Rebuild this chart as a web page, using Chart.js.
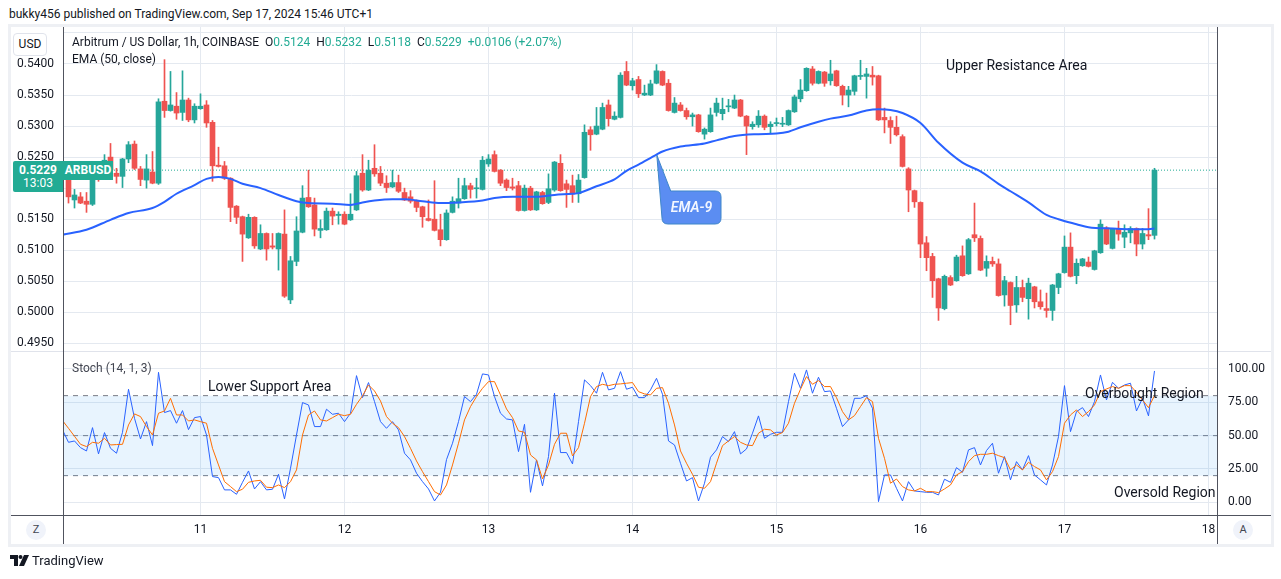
<!DOCTYPE html>
<html lang="en">
<head>
<meta charset="utf-8">
<title>ARBUSD 1h - Coinbase</title>
<script src="https://cdn.jsdelivr.net/npm/chart.js@4.4.1/dist/chart.umd.min.js"></script>
<style>
    html, body { margin: 0; padding: 0; background: #ffffff; }
    body { font-family: Roboto, "Liberation Sans", Arial, sans-serif; color: #131722; }
    #page { position: relative; width: 1281px; height: 579px; overflow: hidden; }
    .abs { position: absolute; white-space: nowrap; }
    canvas { position: absolute; }
    #frame { left: 8px; top: 24px; width: 1266px; height: 523px; box-sizing: border-box; border: 3px solid #eef0f4; }
    #priceCanvas { left: 11px; top: 27px; }
    #stochCanvas { left: 11px; top: 352px; }
    .rule { position: absolute; }
    #published { left: 9px; top: 7px; font-size: 12px; color: #131722; }
    #usdBtn { left: 13px; top: 33px; width: 32px; height: 21px; line-height: 21px; text-align: center; font-size: 12px;
              border: 1px solid #e0e3eb; border-radius: 4px; background: #fff; }
    #symbolLegend { left: 72px; top: 35px; font-size: 12px; }
    #symbolLegend .val { color: #22ab94; }
    #symbolLegend .key { margin-left: 6px; }
    #emaLegend { left: 72px; top: 52px; font-size: 12px; }
    #stochLegend { left: 72px; top: 361px; font-size: 12px; color: #434651; }
    .note { font-size: 14px; color: #131722; }
    #upperNote { left: 946px; top: 57px; }
    #lowerNote { left: 208px; top: 378px; }
    #obNote { left: 1085px; top: 385px; }
    #osNote { left: 1114px; top: 484px; }
    #calloutText { left: 662px; top: 199px; width: 59px; text-align: center; font-size: 14px; font-style: italic;
                   font-weight: 600; color: #f4f7ff; }
    #priceBox { left: 13px; width: 50px; height: 31px; background: #22ab94; color: #fff; border-radius: 2px 0 0 2px;
                font-size: 12px; text-align: center; line-height: 13px; padding-top: 3px; box-sizing: border-box; }
    #priceBox b { display: block; font-weight: 700; }
    #symbolTag { left: 63px; width: 50px; height: 19px; line-height: 19px; background: #22ab94; color: #fff;
                 font-size: 12px; font-weight: 700; text-align: center; }
    .round { width: 20px; height: 20px; line-height: 20px; border-radius: 10px; background: #f0f3fa; text-align: center;
             font-size: 11px; color: #434651; }
    #btnZ { left: 26px; top: 520px; }
    #btnA { left: 1233px; top: 520px; }
    #brand { left: 10px; top: 553px; font-size: 13px; color: #131722; }
    #brand svg { vertical-align: -1px; margin-right: 3px; }
</style>
</head>
<body>
<div id="page">
    <div class="abs" id="published">bukky456 published on TradingView.com, Sep 17, 2024 15:46 UTC+1</div>
    <div class="abs" id="frame"></div>

    <canvas id="priceCanvas" width="1260" height="324"></canvas>
    <canvas id="stochCanvas" width="1260" height="192"></canvas>

    <div class="rule" style="left:11px;top:351px;width:1260px;height:1px;background:#e0e3eb"></div>
    <div class="rule" style="left:11px;top:515px;width:1260px;height:1px;background:#50535e"></div>
    <div class="rule" style="left:63px;top:27px;width:1px;height:517px;background:#50535e"></div>
    <div class="rule" style="left:1217px;top:27px;width:1px;height:517px;background:#50535e"></div>

    <div class="abs" id="usdBtn">USD</div>
    <div class="abs" id="symbolLegend">Arbitrum / US Dollar, 1h, COINBASE<span class="key">O<span class="val" id="legO"></span></span><span class="key">H<span class="val" id="legH"></span></span><span class="key">L<span class="val" id="legL"></span></span><span class="key">C<span class="val" id="legC"></span></span><span class="key val" id="legChg"></span></div>
    <div class="abs" id="emaLegend">EMA (50, close)</div>
    <div class="abs note" id="upperNote">Upper Resistance Area</div>

    <svg class="abs" style="left:0;top:0" width="1281" height="579">
        <path d="M656.8 155 L670.7 191 L715 191 Q721 191 721 197 L721 218 Q721 224 715 224 L668 224 Q662 224 662 218 Z"
              fill="#5b8df2" stroke="#3f86c9" stroke-width="1"/>
    </svg>
    <div class="abs" id="calloutText">EMA-9</div>

    <div class="abs" id="priceBox"><b id="lastPrice"></b>13:03</div>
    <div class="abs" id="symbolTag">ARBUSD</div>

    <div class="abs" id="stochLegend">Stoch (14, 1, 3)</div>
    <div class="abs note" id="lowerNote">Lower Support Area</div>
    <div class="abs note" id="obNote">Overbought Region</div>
    <div class="abs note" id="osNote">Oversold Region</div>

    <div class="abs round" id="btnZ">Z</div>
    <div class="abs round" id="btnA">A</div>
    <div class="abs" id="brand"><svg width="19" height="11" viewBox="0 0 19 11"><path d="M0 0h8v11h-4v-7h-4z" fill="#131722"/><circle cx="10.5" cy="2" r="2" fill="#131722"/><path d="M14 0h5l-5 11h-5z" fill="#131722"/></svg>TradingView</div>
</div>

<script>
// ARBUSD 1h candles, Coinbase. Hours are counted from Sep 10 00:00 (UTC+1),
// first candle is Sep 10 02:00, last one Sep 17 15:00.
const firstCandleHour = 2;

const openPrices = [
    0.5214, 0.5181, 0.5186, 0.5179, 0.5174, 0.5225, 0.5220, 0.5250, 0.5224, 0.5219,
    0.5247, 0.5271, 0.5231, 0.5213, 0.5226, 0.5208, 0.5340, 0.5325, 0.5332, 0.5322,
    0.5342, 0.5310, 0.5328, 0.5334, 0.5306, 0.5237, 0.5236, 0.5216, 0.5171, 0.5154,
    0.5120, 0.5153, 0.5102, 0.5127, 0.5107, 0.5102, 0.5126, 0.5020, 0.5082, 0.5129,
    0.5185, 0.5173, 0.5132, 0.5133, 0.5163, 0.5156, 0.5158, 0.5149, 0.5165, 0.5224,
    0.5197, 0.5232, 0.5224, 0.5208, 0.5202, 0.5209, 0.5193, 0.5186, 0.5179, 0.5170,
    0.5151, 0.5150, 0.5133, 0.5117, 0.5161, 0.5176, 0.5183, 0.5204, 0.5199, 0.5198,
    0.5239, 0.5254, 0.5229, 0.5213, 0.5202, 0.5204, 0.5164, 0.5200, 0.5165, 0.5193,
    0.5177, 0.5197, 0.5240, 0.5207, 0.5204, 0.5191, 0.5217, 0.5294, 0.5287, 0.5295,
    0.5334, 0.5311, 0.5314, 0.5388, 0.5365, 0.5375, 0.5350, 0.5350, 0.5369, 0.5388,
    0.5369, 0.5322, 0.5334, 0.5325, 0.5315, 0.5318, 0.5287, 0.5291, 0.5322, 0.5320,
    0.5331, 0.5329, 0.5342, 0.5316, 0.5299, 0.5302, 0.5316, 0.5299, 0.5304, 0.5303,
    0.5302, 0.5323, 0.5344, 0.5357, 0.5392, 0.5369, 0.5387, 0.5373, 0.5389, 0.5364,
    0.5350, 0.5356, 0.5380, 0.5380, 0.5382, 0.5381, 0.5314, 0.5309, 0.5298, 0.5283,
    0.5231, 0.5196, 0.5177, 0.5112, 0.5090, 0.5054, 0.5006, 0.5056, 0.5051, 0.5091,
    0.5062, 0.5125, 0.5119, 0.5071, 0.5082, 0.5078, 0.5028, 0.5048, 0.5012, 0.5040,
    0.5022, 0.5041, 0.5017, 0.5006, 0.5003, 0.5040, 0.5064, 0.5105, 0.5059, 0.5075,
    0.5081, 0.5069, 0.5096, 0.5136, 0.5103, 0.5135, 0.5121, 0.5128, 0.5135, 0.5110,
    0.5125, 0.5124
];
const highPrices = [
    0.5218, 0.5198, 0.5193, 0.5193, 0.5225, 0.5232, 0.5254, 0.5272, 0.5232, 0.5248,
    0.5275, 0.5276, 0.5235, 0.5254, 0.5259, 0.5344, 0.5407, 0.5388, 0.5354, 0.5389,
    0.5345, 0.5336, 0.5352, 0.5341, 0.5309, 0.5266, 0.5243, 0.5217, 0.5172, 0.5155,
    0.5158, 0.5154, 0.5141, 0.5128, 0.5127, 0.5128, 0.5165, 0.5090, 0.5154, 0.5204,
    0.5229, 0.5184, 0.5149, 0.5168, 0.5168, 0.5162, 0.5162, 0.5191, 0.5227, 0.5254,
    0.5245, 0.5270, 0.5235, 0.5220, 0.5229, 0.5221, 0.5200, 0.5196, 0.5181, 0.5171,
    0.5181, 0.5212, 0.5158, 0.5165, 0.5186, 0.5216, 0.5216, 0.5208, 0.5216, 0.5251,
    0.5254, 0.5260, 0.5230, 0.5215, 0.5216, 0.5211, 0.5205, 0.5203, 0.5195, 0.5195,
    0.5223, 0.5243, 0.5254, 0.5213, 0.5221, 0.5222, 0.5302, 0.5299, 0.5330, 0.5337,
    0.5342, 0.5323, 0.5386, 0.5404, 0.5377, 0.5380, 0.5366, 0.5374, 0.5399, 0.5389,
    0.5375, 0.5346, 0.5338, 0.5329, 0.5321, 0.5319, 0.5297, 0.5329, 0.5345, 0.5345,
    0.5343, 0.5350, 0.5343, 0.5317, 0.5307, 0.5325, 0.5318, 0.5307, 0.5313, 0.5314,
    0.5326, 0.5350, 0.5375, 0.5394, 0.5396, 0.5389, 0.5388, 0.5406, 0.5390, 0.5366,
    0.5364, 0.5382, 0.5406, 0.5393, 0.5396, 0.5382, 0.5329, 0.5315, 0.5316, 0.5286,
    0.5233, 0.5197, 0.5178, 0.5122, 0.5095, 0.5055, 0.5060, 0.5059, 0.5092, 0.5107,
    0.5119, 0.5176, 0.5123, 0.5091, 0.5089, 0.5086, 0.5058, 0.5049, 0.5058, 0.5052,
    0.5055, 0.5042, 0.5036, 0.5031, 0.5045, 0.5063, 0.5123, 0.5128, 0.5086, 0.5087,
    0.5089, 0.5100, 0.5149, 0.5138, 0.5135, 0.5147, 0.5141, 0.5138, 0.5136, 0.5135,
    0.5167, 0.5232
];
const lowPrices = [
    0.5176, 0.5168, 0.5175, 0.5161, 0.5172, 0.5211, 0.5216, 0.5227, 0.5208, 0.5201,
    0.5241, 0.5230, 0.5204, 0.5200, 0.5207, 0.5206, 0.5314, 0.5324, 0.5311, 0.5309,
    0.5307, 0.5305, 0.5327, 0.5298, 0.5211, 0.5234, 0.5214, 0.5146, 0.5143, 0.5082,
    0.5119, 0.5103, 0.5101, 0.5084, 0.5102, 0.5068, 0.5024, 0.5014, 0.5075, 0.5128,
    0.5169, 0.5123, 0.5120, 0.5132, 0.5141, 0.5142, 0.5141, 0.5148, 0.5164, 0.5195,
    0.5196, 0.5219, 0.5204, 0.5193, 0.5201, 0.5193, 0.5180, 0.5176, 0.5162, 0.5137,
    0.5147, 0.5131, 0.5107, 0.5116, 0.5160, 0.5168, 0.5182, 0.5184, 0.5184, 0.5197,
    0.5235, 0.5226, 0.5204, 0.5196, 0.5197, 0.5163, 0.5163, 0.5164, 0.5164, 0.5174,
    0.5175, 0.5195, 0.5195, 0.5169, 0.5177, 0.5177, 0.5216, 0.5261, 0.5286, 0.5294,
    0.5300, 0.5310, 0.5313, 0.5365, 0.5358, 0.5346, 0.5349, 0.5349, 0.5368, 0.5365,
    0.5324, 0.5321, 0.5324, 0.5311, 0.5300, 0.5290, 0.5279, 0.5290, 0.5316, 0.5310,
    0.5323, 0.5328, 0.5315, 0.5254, 0.5295, 0.5298, 0.5294, 0.5288, 0.5300, 0.5299,
    0.5301, 0.5322, 0.5339, 0.5356, 0.5366, 0.5368, 0.5364, 0.5366, 0.5364, 0.5334,
    0.5331, 0.5350, 0.5375, 0.5345, 0.5366, 0.5309, 0.5289, 0.5272, 0.5284, 0.5234,
    0.5162, 0.5169, 0.5088, 0.5067, 0.5024, 0.4987, 0.5004, 0.5043, 0.5050, 0.5058,
    0.5061, 0.5114, 0.5067, 0.5058, 0.5074, 0.5026, 0.5010, 0.4980, 0.5000, 0.5017,
    0.4989, 0.5007, 0.5005, 0.4992, 0.4987, 0.5030, 0.5063, 0.5057, 0.5046, 0.5074,
    0.5073, 0.5068, 0.5095, 0.5109, 0.5102, 0.5116, 0.5104, 0.5112, 0.5091, 0.5102,
    0.5117, 0.5118
];
const closePrices = [
    0.5186, 0.5189, 0.5176, 0.5174, 0.5222, 0.5218, 0.5245, 0.5229, 0.5219, 0.5247,
    0.5270, 0.5232, 0.5214, 0.5231, 0.5208, 0.5339, 0.5325, 0.5334, 0.5321, 0.5342,
    0.5310, 0.5332, 0.5332, 0.5305, 0.5236, 0.5235, 0.5216, 0.5169, 0.5153, 0.5126,
    0.5153, 0.5107, 0.5127, 0.5102, 0.5105, 0.5127, 0.5026, 0.5083, 0.5131, 0.5184,
    0.5170, 0.5134, 0.5135, 0.5163, 0.5155, 0.5158, 0.5142, 0.5158, 0.5220, 0.5197,
    0.5229, 0.5223, 0.5208, 0.5201, 0.5209, 0.5195, 0.5181, 0.5179, 0.5169, 0.5154,
    0.5148, 0.5132, 0.5117, 0.5160, 0.5179, 0.5183, 0.5204, 0.5198, 0.5200, 0.5245,
    0.5247, 0.5227, 0.5208, 0.5201, 0.5200, 0.5164, 0.5200, 0.5165, 0.5194, 0.5175,
    0.5199, 0.5242, 0.5196, 0.5198, 0.5191, 0.5213, 0.5290, 0.5286, 0.5300, 0.5330,
    0.5312, 0.5316, 0.5382, 0.5366, 0.5373, 0.5352, 0.5353, 0.5368, 0.5389, 0.5366,
    0.5325, 0.5337, 0.5325, 0.5315, 0.5318, 0.5291, 0.5295, 0.5318, 0.5337, 0.5327,
    0.5332, 0.5342, 0.5316, 0.5300, 0.5303, 0.5316, 0.5298, 0.5303, 0.5305, 0.5304,
    0.5325, 0.5347, 0.5358, 0.5393, 0.5369, 0.5388, 0.5369, 0.5384, 0.5365, 0.5350,
    0.5358, 0.5381, 0.5381, 0.5384, 0.5379, 0.5310, 0.5310, 0.5298, 0.5286, 0.5235,
    0.5197, 0.5178, 0.5110, 0.5088, 0.5051, 0.5007, 0.5058, 0.5044, 0.5089, 0.5059,
    0.5117, 0.5120, 0.5068, 0.5082, 0.5078, 0.5027, 0.5051, 0.5011, 0.5040, 0.5024,
    0.5047, 0.5017, 0.5009, 0.5003, 0.5044, 0.5062, 0.5105, 0.5058, 0.5079, 0.5086,
    0.5074, 0.5099, 0.5142, 0.5110, 0.5134, 0.5126, 0.5129, 0.5135, 0.5110, 0.5127,
    0.5123, 0.5229
];

// EMA (50, close)
const emaHours = [
    1, 5, 9, 12, 16, 18, 20, 23, 25, 27, 29, 31, 34, 37, 40, 42, 46, 49, 51, 53,
    56, 58, 61, 64, 67, 71, 73, 76, 80, 83, 86, 87, 90, 93, 95, 97, 100, 101, 104, 108,
    110, 113, 117, 120, 122, 124, 127, 129, 132, 135, 137, 139, 141, 144, 147, 151, 154, 157, 159, 162,
    165, 167, 170, 172, 176, 179, 182, 183
];
const emaValues = [
    0.5125, 0.5133, 0.5149, 0.5160, 0.5168, 0.5178, 0.5191, 0.5205, 0.5215, 0.5218,
    0.5215, 0.5207, 0.5200, 0.5189, 0.5179, 0.5176, 0.5175, 0.5173, 0.5177, 0.5180,
    0.5182, 0.5182, 0.5179, 0.5176, 0.5177, 0.5180, 0.5184, 0.5186, 0.5186, 0.5189,
    0.5191, 0.5192, 0.5203, 0.5214, 0.5228, 0.5238, 0.5254, 0.5259, 0.5267, 0.5272,
    0.5277, 0.5284, 0.5287, 0.5288, 0.5291, 0.5298, 0.5307, 0.5312, 0.5317, 0.5325,
    0.5327, 0.5326, 0.5321, 0.5305, 0.5273, 0.5241, 0.5227, 0.5207, 0.5195, 0.5177,
    0.5157, 0.5150, 0.5142, 0.5137, 0.5135, 0.5134, 0.5134, 0.5135
];

// Stoch (14, 1, 3): %K (blue) and %D (orange), one value per hour from hour 1
const firstStochHour = 1;
const stochK = [
    54.3, 45, 46, 41, 38.5, 56, 36.3, 52.3, 40.5, 36.8,
    52.5, 84.8, 63, 47.5, 60.5, 42.5, 97.5, 67.3, 68.8, 59.3,
    68.8, 54.5, 63.5, 64.3, 50.5, 19.3, 18.5, 9.3, 9.3, 6,
    15, 23.5, 10, 15.5, 9.3, 9.8, 21, 2.5, 25.5, 50.5,
    74.8, 73, 56.8, 56.8, 69.8, 66, 66.8, 60.5, 66.8, 95,
    78.5, 89.8, 75.5, 60.5, 55.5, 60.5, 54.3, 36.8, 31.8, 21.8,
    15.5, 10, 1, 7.5, 32, 44.3, 60.5, 79.3, 75.5, 81,
    96.3, 95.5, 79.3, 66.8, 62.5, 61.8, 38, 58.5, 7.5, 31.8,
    12.3, 34.3, 81.8, 37.3, 37.3, 28.8, 60.5, 91.8, 87.5, 81.8,
    97.5, 84.3, 85.5, 98, 84.8, 86.3, 78.5, 78.5, 84.3, 93,
    81, 46, 43, 29.3, 16, 18.5, 1, 14.3, 33.8, 39.3,
    49.3, 45.5, 53, 36.3, 40, 51.8, 64.8, 48, 51, 52.5,
    52.5, 75.5, 96.8, 85.5, 99.3, 81.8, 93.8, 83, 83.5, 70.5,
    56.8, 61.8, 78, 78, 80, 70.5, 0.5, 20.5, 20.5, 10.5,
    1, 15.5, 8.5, 8, 7.5, 7.5, 5.5, 17.3, 15, 26,
    22.5, 39.3, 41, 28, 38.8, 44.3, 21.8, 34.3, 16.8, 30.5,
    24.3, 35, 20.5, 16.8, 13, 28, 49.3, 87.5, 53, 68,
    71, 64.3, 75.5, 95.5, 76.8, 90, 85.5, 88, 89.3, 68.5,
    78, 64.8, 98.5
];
const stochD = [
    61.3, 55.5, 49.5, 43.5, 41.8, 45, 44.3, 48, 43, 43.3,
    43.5, 58, 66.3, 64.3, 56.8, 50.5, 66.8, 68.5, 78, 65.5,
    65.5, 61, 61.8, 60.5, 59.3, 40.5, 28, 15.5, 11.8, 8,
    9.8, 15, 16, 16.5, 11.3, 11, 13, 11, 15.5, 24.3,
    50.5, 65.5, 68.5, 61.8, 61, 63.5, 66, 65, 66, 73.5,
    79.8, 88, 83.5, 76, 64.3, 59.3, 56, 49.3, 40.5, 31,
    23, 15.5, 8, 5.5, 13, 28, 44.3, 61.8, 71.8, 79.3,
    85.5, 90.5, 90.5, 80.5, 70, 63.5, 53.5, 52.5, 35.5, 31.8,
    17.5, 28, 43.5, 51.8, 51.8, 34.8, 41, 59.3, 79.3, 86.8,
    88.5, 87.5, 88.5, 88.8, 89.3, 89.8, 83, 81.3, 80.5, 85.5,
    86, 74.3, 58, 38.5, 29.3, 21, 11.3, 10.5, 15.5, 29.3,
    42.5, 46, 49.3, 45, 43, 42.5, 51.8, 54.8, 54.3, 50.5,
    52.3, 59.3, 74.3, 84.8, 94.3, 88.5, 91.3, 86.8, 86.8, 78.5,
    68, 61.8, 65, 71.8, 78.5, 75.5, 48, 33, 14.3, 17.5,
    11.8, 9.3, 8.5, 10.5, 8, 8, 7.3, 10, 13, 20.5,
    23, 30.5, 35, 36, 36, 36.8, 35, 33.5, 24.3, 28,
    24.3, 30, 26.8, 24.3, 16.8, 23, 34.3, 59.3, 65.5, 69.3,
    64.3, 68, 73, 83, 85, 86.8, 85.5, 87.5, 87.5, 82.5,
    76.8, 71, 80
];

const dayTicks = [24, 48, 72, 96, 120, 144, 168, 192];
const dayLabels = ['11', '12', '13', '14', '15', '16', '17', '18'];
const priceTicks = [0.495, 0.500, 0.505, 0.510, 0.515, 0.520, 0.525, 0.530, 0.535, 0.540, 0.545];
const priceTickLabels = ['0.4950', '0.5000', '0.5050', '0.5100', '0.5150', '0.5200', '0.5250', '0.5300', '0.5350', '0.5400', ''];
const stochTicks = [0, 25, 50, 75, 100];
const stochTickLabels = ['0.00', '25.00', '50.00', '75.00', '100.00'];
const stochLevels = [80, 50, 20];

const UP = '#26a69a';
const DOWN = '#ef5350';
const GRID = '#e4e9f0';
const TEXT = '#131722';
const LEVEL = '#787b86';

// visible window of both panes
const X_MIN = 1.0833, X_MAX = 193.4167;
const PRICE_MIN = 0.493769, PRICE_MAX = 0.545960;
const STOCH_MIN = -9.525, STOCH_MAX = 112.725;

Chart.defaults.font.family = 'Roboto, "Liberation Sans", Arial, sans-serif';
Chart.defaults.font.size = 12;
Chart.defaults.color = TEXT;

const candleHours = openPrices.map((_, i) => firstCandleHour + i);
const candleColors = openPrices.map((o, i) => closePrices[i] >= o ? UP : DOWN);
const lastIdx = closePrices.length - 1;
const lastClose = closePrices[lastIdx];

function fillLegend() {
    const change = lastClose - closePrices[lastIdx - 1];
    const pct = change / closePrices[lastIdx - 1] * 100;
    document.getElementById('legO').textContent = openPrices[lastIdx].toFixed(4);
    document.getElementById('legH').textContent = highPrices[lastIdx].toFixed(4);
    document.getElementById('legL').textContent = lowPrices[lastIdx].toFixed(4);
    document.getElementById('legC').textContent = lastClose.toFixed(4);
    document.getElementById('legChg').textContent =
        (change >= 0 ? '+' : '') + change.toFixed(4) + ' (' + (pct >= 0 ? '+' : '') + pct.toFixed(2) + '%)';
    document.getElementById('lastPrice').textContent = lastClose.toFixed(4);
}

// keeps the price box and symbol tag on the last close
const priceTagPlugin = {
    id: 'priceTag',
    afterRender(chart) {
        const y = 27 + chart.scales.y.getPixelForValue(lastClose);
        document.getElementById('priceBox').style.top = Math.round(y - 9) + 'px';
        document.getElementById('symbolTag').style.top = Math.round(y - 9) + 'px';
    }
};

function dayAxis(showLabels) {
    return {
        type: 'linear',
        min: X_MIN,
        max: X_MAX,
        offset: false,
        grid: { color: GRID, drawTicks: false, offset: false },
        border: { display: false },
        ticks: {
            display: showLabels,
            padding: 8,
            maxRotation: 0,
            autoSkip: false,
            callback: (v, i) => dayLabels[i]
        },
        afterBuildTicks: s => { s.ticks = dayTicks.map(v => ({ value: v })); },
        afterFit: s => {
            s.height = showLabels ? 29 : 0;
            s.paddingLeft = 0;
            s.paddingRight = 0;
        }
    };
}

function levelLine(v) {
    return [{ x: X_MIN, y: v }, { x: X_MAX, y: v }];
}

function initPriceChart() {
    return new Chart(document.getElementById('priceCanvas'), {
        type: 'bar',
        data: {
            datasets: [
                {
                    type: 'line',
                    label: 'EMA (50, close)',
                    data: emaHours.map((x, i) => ({ x, y: emaValues[i] })),
                    borderColor: '#2962ff',
                    borderWidth: 2,
                    pointRadius: 0,
                    cubicInterpolationMode: 'monotone',
                    order: 1
                },
                {
                    label: 'body',
                    data: candleHours.map((x, i) => ({ x, y: [openPrices[i], closePrices[i]] })),
                    backgroundColor: candleColors,
                    borderWidth: 0,
                    barThickness: 5,
                    minBarLength: 1,
                    grouped: false,
                    order: 2
                },
                {
                    label: 'wick',
                    data: candleHours.map((x, i) => ({ x, y: [lowPrices[i], highPrices[i]] })),
                    backgroundColor: candleColors,
                    borderWidth: 0,
                    barThickness: 1,
                    grouped: false,
                    order: 3
                },
                {
                    type: 'line',
                    label: 'last price',
                    data: levelLine(lastClose),
                    borderColor: '#22ab94',
                    borderWidth: 1,
                    borderDash: [1, 2],
                    pointRadius: 0,
                    order: 4
                }
            ]
        },
        options: {
            responsive: false,
            devicePixelRatio: 1,
            animation: false,
            events: [],
            layout: { padding: { left: 0, right: 54, top: 0, bottom: 0 } },
            plugins: { legend: { display: false }, tooltip: { enabled: false } },
            scales: {
                x: dayAxis(false),
                y: {
                    position: 'left',
                    min: PRICE_MIN,
                    max: PRICE_MAX,
                    grid: { color: GRID, drawTicks: false },
                    border: { display: false },
                    ticks: { padding: 9, callback: (v, i) => priceTickLabels[i] },
                    afterBuildTicks: s => { s.ticks = priceTicks.map(v => ({ value: v })); },
                    afterFit: s => { s.width = 52; s.paddingTop = 0; s.paddingBottom = 0; }
                }
            }
        },
        plugins: [priceTagPlugin]
    });
}

function initStochChart() {
    const levelStyle = { borderColor: LEVEL, borderWidth: 1, borderDash: [5, 5], pointRadius: 0, order: 5 };
    return new Chart(document.getElementById('stochCanvas'), {
        type: 'line',
        data: {
            datasets: [
                { ...levelStyle, label: 'upper', data: levelLine(stochLevels[0]), fill: '+2', backgroundColor: 'rgba(33, 150, 243, 0.1)' },
                { ...levelStyle, label: 'middle', data: levelLine(stochLevels[1]), fill: false },
                { ...levelStyle, label: 'lower', data: levelLine(stochLevels[2]), fill: false },
                {
                    label: '%K',
                    data: stochK.map((y, i) => ({ x: firstStochHour + i, y })),
                    borderColor: '#2962ff',
                    borderWidth: 1,
                    pointRadius: 0,
                    fill: false,
                    order: 2
                },
                {
                    label: '%D',
                    data: stochD.map((y, i) => ({ x: firstStochHour + i, y })),
                    borderColor: '#ff6d00',
                    borderWidth: 1,
                    pointRadius: 0,
                    fill: false,
                    order: 1
                }
            ]
        },
        options: {
            responsive: false,
            devicePixelRatio: 1,
            animation: false,
            events: [],
            layout: { padding: { left: 52, right: 0, top: 0, bottom: 0 } },
            plugins: { legend: { display: false }, tooltip: { enabled: false } },
            scales: {
                x: dayAxis(true),
                y: {
                    position: 'right',
                    min: STOCH_MIN,
                    max: STOCH_MAX,
                    grid: { color: GRID, drawTicks: false },
                    border: { display: false },
                    ticks: { padding: 11, callback: (v, i) => stochTickLabels[i] },
                    afterBuildTicks: s => { s.ticks = stochTicks.map(v => ({ value: v })); },
                    afterFit: s => { s.width = 54; s.paddingTop = 0; s.paddingBottom = 0; }
                }
            }
        }
    });
}

fillLegend();
initPriceChart();
initStochChart();
</script>
</body>
</html>
